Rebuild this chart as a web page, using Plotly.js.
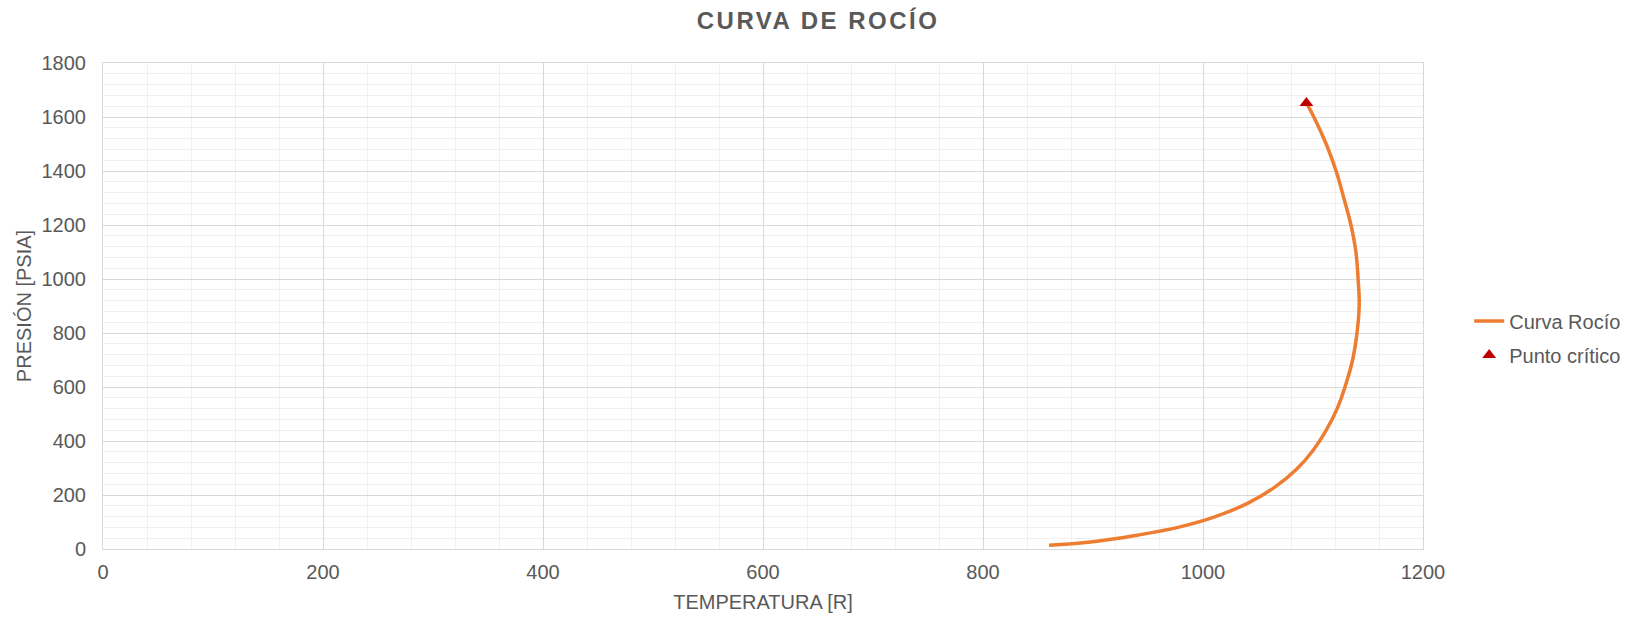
<!DOCTYPE html>
<html>
<head>
<meta charset="utf-8">
<script src="https://cdn.plot.ly/plotly-3.0.1.min.js"></script>
<style>html,body{margin:0;padding:0;background:#fff;}#chart{width:1646px;height:620px;}</style>
</head>
<body>
<div id="chart"></div>
<script>
// Dew point curve (Curva de Rocío)
const temperaturaR = [860, 900, 940, 980, 1010, 1040, 1065, 1085, 1100, 1112, 1122, 1130, 1136, 1140, 1142, 1141, 1139, 1134.5, 1128, 1121, 1112, 1102, 1094];
const presionPsia  = [14, 27, 51, 83, 118, 168, 228, 295, 365, 440, 520, 612, 700, 800, 900, 1000, 1100, 1200, 1300, 1400, 1500, 1590, 1652];
// Critical point
const criticoT = [1094];
const criticoP = [1652];

const chartTitle = 'CURVA DE ROCÍO';
const xTitle = 'TEMPERATURA [R]';
const yTitle = 'PRESIÓN [PSIA]';
const serieCurva = 'Curva Rocío';
const seriePunto = 'Punto crítico';

const FONT = '"Liberation Sans", Arial, sans-serif';
const GREY = '#595959';

const traces = [
  {
    x: temperaturaR, y: presionPsia, name: serieCurva, legendgroup: 'a',
    type: 'scatter', mode: 'lines',
    line: {color: '#ED7D31', width: 3.5, shape: 'spline', smoothing: 1.3}
  },
  {
    x: criticoT, y: criticoP, name: seriePunto, legendgroup: 'b',
    type: 'scatter', mode: 'markers',
    marker: {symbol: 'triangle-up', size: 12, color: '#C00000'}
  }
];

const layout = {
  width: 1646, height: 620,
  paper_bgcolor: '#ffffff', plot_bgcolor: '#ffffff',
  margin: {l: 103, r: 223, t: 63, b: 71},
  font: {family: FONT, size: 20, color: GREY},
  title: {
    text: chartTitle, x: 0.497, xref: 'container', xanchor: 'center',
    y: 1 - 21/620, yref: 'container', yanchor: 'middle',
    font: {family: FONT, size: 24, color: GREY, weight: 'bold'}
  },
  xaxis: {
    range: [0, 1200], dtick: 200, tick0: 0,
    showgrid: true, gridcolor: '#D9D9D9', gridwidth: 1,
    minor: {dtick: 40, showgrid: true, gridcolor: '#F0F0F0', gridwidth: 1},
    zeroline: false, showline: true, linecolor: '#D9D9D9', linewidth: 1, mirror: true,
    ticks: '', ticklabelstandoff: 5,
    tickfont: {family: FONT, size: 20, color: GREY},
    title: {text: xTitle, standoff: 12, font: {family: FONT, size: 20, color: GREY}},
    fixedrange: true
  },
  yaxis: {
    range: [0, 1800], dtick: 200, tick0: 0,
    showgrid: true, gridcolor: '#D9D9D9', gridwidth: 1,
    minor: {dtick: 40, showgrid: true, gridcolor: '#F0F0F0', gridwidth: 1},
    zeroline: false, showline: true, linecolor: '#D9D9D9', linewidth: 1, mirror: true,
    ticks: '', ticklabelstandoff: 12,
    tickfont: {family: FONT, size: 20, color: GREY},
    title: {text: yTitle, standoff: 4, font: {family: FONT, size: 20, color: GREY}},
    fixedrange: true
  },
  showlegend: true,
  legend: {
    x: 1.035, xanchor: 'left', y: 0.434, yanchor: 'middle',
    font: {family: FONT, size: 20, color: GREY},
    bgcolor: 'rgba(0,0,0,0)', traceorder: 'grouped', tracegroupgap: 5
  }
};

Plotly.newPlot('chart', traces, layout, {displayModeBar: false, staticPlot: true}).then(function () {
  const t = document.querySelector('.gtitle');
  if (t) t.style.letterSpacing = '2.5px';
});
</script>
</body>
</html>
